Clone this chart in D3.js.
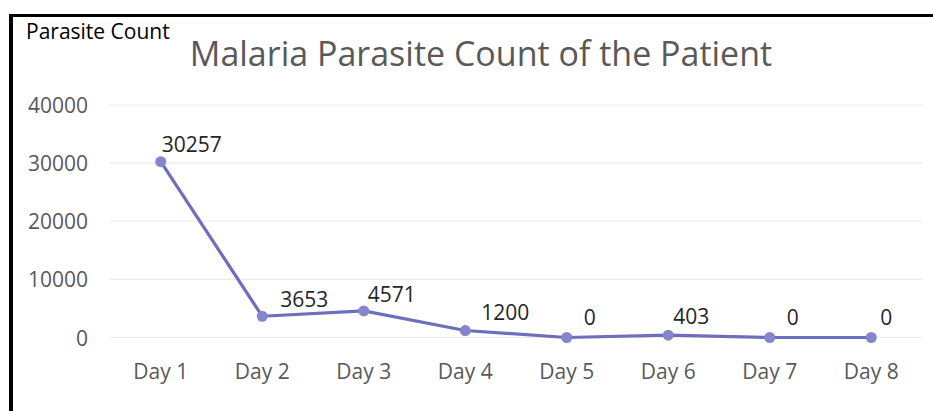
<!DOCTYPE html>
<html><head><meta charset="utf-8">
<script src="https://cdn.jsdelivr.net/npm/d3@7"></script>
<style>body{margin:0;background:#fff;} svg{display:block;}</style>
</head><body>
<svg id="c" width="933" height="411"></svg>
<script>
const days = ["Day 1","Day 2","Day 3","Day 4","Day 5","Day 6","Day 7","Day 8"];
const counts = [30257, 3653, 4571, 1200, 0, 403, 0, 0];
const yTicks = [0, 10000, 20000, 30000, 40000];
const titleText = "Malaria Parasite Count of the Patient";
const yAxisTitle = "Parasite Count";

// label placement offsets (styling)
const labelDx = [31, 42, 28, 40, 23, 23, 23, 15];
const labelDy = [-10, -9, -9, -11, -13, -11, -13, -13];

const FONT = "'Open Sans', 'Noto Sans', sans-serif";
const svg = d3.select("#c");
const W = 933, H = 411;
svg.append("rect").attr("width", W).attr("height", H).attr("fill", "#fff");

const x = d3.scaleBand().domain(days).range([110, 922]);
const y = d3.scaleLinear().domain([0, 40000]).range([337.5, 105]);

// gridlines
svg.append("g").selectAll("line").data(yTicks).join("line")
  .attr("x1", 110).attr("x2", 922)
  .attr("y1", d => y(d)).attr("y2", d => y(d))
  .attr("stroke", "#ececec").attr("stroke-width", 1.2);

// y axis labels
const yAxis = d3.axisLeft(y).tickValues(yTicks).tickSize(0).tickPadding(0).tickFormat(d3.format("d"));
const yg = svg.append("g").attr("transform", "translate(88,0)").call(yAxis);
yg.select(".domain").remove();
yg.selectAll("text").attr("font-family", FONT).attr("font-size", 21).attr("fill", "#595959").attr("dy", "0.36em");

// x axis labels
const xAxis = d3.axisBottom(x).tickSize(0).tickPadding(0);
const xg = svg.append("g").attr("transform", "translate(0,379)").call(xAxis);
xg.select(".domain").remove();
xg.selectAll("text").attr("font-family", FONT).attr("font-size", 21).attr("fill", "#595959").attr("y", 0).attr("dy", 0);

// line
const cx = (d, i) => x(days[i]) + x.bandwidth() / 2;
const line = d3.line().x((d, i) => cx(d, i)).y(d => y(d));
svg.append("path").datum(counts).attr("d", line)
  .attr("fill", "none").attr("stroke", "#6e6ebd").attr("stroke-width", 3.2).attr("stroke-linejoin", "round");

svg.append("g").selectAll("circle").data(counts).join("circle")
  .attr("cx", cx).attr("cy", d => y(d)).attr("r", 5.5).attr("fill", "#8585cc");

// data labels
svg.append("g").selectAll("text").data(counts).join("text")
  .attr("x", (d, i) => cx(d, i) + labelDx[i]).attr("y", (d, i) => y(d) + labelDy[i])
  .attr("text-anchor", "middle").attr("font-family", FONT).attr("font-size", 21).attr("fill", "#262626")
  .text(d => d);

// title
svg.append("text").attr("x", 481).attr("y", 66).attr("text-anchor", "middle")
  .attr("font-family", FONT).attr("font-size", 34).attr("fill", "#595959").text(titleText);

svg.append("text").attr("x", 26).attr("y", 39)
  .attr("font-family", FONT).attr("font-size", 21).attr("fill", "#000").text(yAxisTitle);

// border
svg.append("rect").attr("x", 9).attr("y", 14).attr("width", 4).attr("height", H - 14).attr("fill", "#000");
svg.append("rect").attr("x", 9).attr("y", 14).attr("width", W - 9).attr("height", 3).attr("fill", "#000");
</script>
</body></html>
